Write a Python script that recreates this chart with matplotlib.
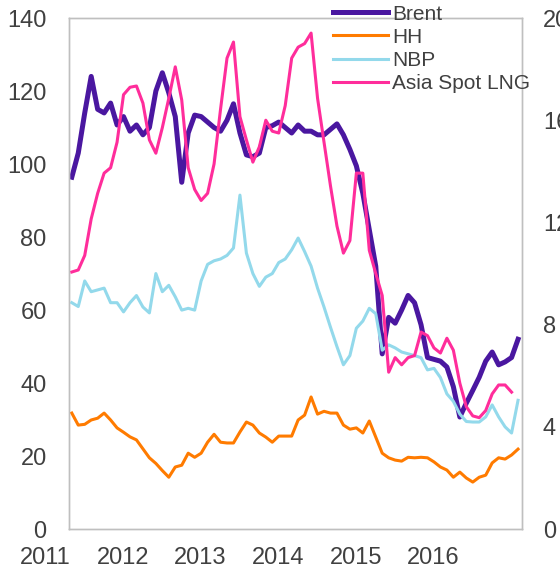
import matplotlib.pyplot as plt
import numpy as np

plt.rcParams['font.family'] = ['Liberation Sans', 'DejaVu Sans']

# monthly series, Jan 2011 onwards
brent = [96.4, 103, 114, 124, 115, 114, 116.7, 110.7, 113, 109,
         110.7, 108, 110, 120, 125, 119.5, 113, 95, 108.5, 113.4,
         113, 111.5, 110, 109, 112, 116.5, 108.5, 102.5, 102, 103,
         110, 110.5, 111.5, 110, 108.5, 110.7, 109, 109, 108, 108,
         109.5, 111, 108, 104, 99.5, 92, 82, 72, 48, 58,
         56.4, 60, 64, 62, 56, 47, 46.5, 46, 44.4, 39,
         30.7, 34.5, 38, 41.6, 46, 48.5, 45, 45.8, 47, 52]

# gas prices, $/MMBtu (right axis)
hh = [4.54, 4.07, 4.10, 4.27, 4.34, 4.54, 4.27, 3.96, 3.79, 3.61,
      3.49, 3.14, 2.79, 2.57, 2.29, 2.03, 2.43, 2.50, 2.97, 2.81,
      2.97, 3.40, 3.71, 3.40, 3.37, 3.37, 3.80, 4.19, 4.07, 3.76,
      3.60, 3.40, 3.64, 3.64, 3.64, 4.27, 4.46, 5.17, 4.50, 4.61,
      4.54, 4.54, 4.07, 3.91, 3.96, 3.76, 4.23, 3.60, 2.97, 2.79,
      2.70, 2.66, 2.81, 2.79, 2.81, 2.79, 2.63, 2.43, 2.31, 2.03,
      2.23, 2.00, 1.84, 2.03, 2.11, 2.59, 2.79, 2.74, 2.90, 3.13]

nbp = [8.86, 8.71, 9.71, 9.29, 9.36, 9.43, 8.86, 8.86, 8.50, 8.86,
       9.14, 8.69, 8.46, 10.0, 9.29, 9.54, 9.09, 8.57, 8.64, 8.57,
       9.71, 10.36, 10.5, 10.57, 10.71, 11.0, 13.07, 10.8, 10.0, 9.5,
       9.86, 10.0, 10.43, 10.57, 10.93, 11.39, 10.86, 10.29, 9.43, 8.69,
       7.90, 7.14, 6.43, 6.79, 7.86, 8.14, 8.64, 8.43, 7.0, 7.21,
       7.09, 6.93, 6.86, 6.79, 6.71, 6.23, 6.29, 5.93, 5.29, 5.0,
       4.50, 4.21, 4.19, 4.19, 4.39, 4.86, 4.39, 4.0, 3.76, 5.04]

lng = [10.06, 10.14, 10.71, 12.14, 13.14, 13.93, 14.14, 15.14, 17.0, 17.29,
       17.34, 16.67, 15.23, 14.71, 15.71, 16.86, 18.09, 16.79, 14.14, 13.29,
       12.86, 13.14, 14.29, 16.43, 18.43, 19.06, 16.14, 15.23, 14.36, 14.96,
       16.0, 15.57, 15.5, 16.57, 18.43, 18.86, 19.0, 19.41, 16.86, 15.14,
       13.43, 11.86, 10.8, 11.29, 13.93, 13.93, 10.91, 10.0, 9.14, 6.14,
       6.71, 6.43, 6.71, 6.79, 7.71, 7.57, 7.09, 6.89, 7.47, 7.0,
       5.71, 4.79, 4.43, 4.36, 4.64, 5.29, 5.64, 5.64, 5.36]

years = ['2011', '2012', '2013', '2014', '2015', '2016']

grey = '#404040'
frame = '#bfbfbf'

fig = plt.figure(figsize=(5.6, 5.72), dpi=100)
ax = fig.add_axes([0.123, 0.075, 0.809, 0.8935])
ax2 = ax.twinx()

l1, = ax.plot(np.arange(len(brent)), brent, color='#4a17a0', lw=3.6,
              solid_joinstyle='round', label='Brent')
l2, = ax2.plot(np.arange(len(hh)), hh, color='#ff7b00', lw=2.2, label='HH')
l3, = ax2.plot(np.arange(len(nbp)), nbp, color='#93d9eb', lw=2.2, label='NBP')
l4, = ax2.plot(np.arange(len(lng)), lng, color='#ff2d9b', lw=2.2,
               label='Asia Spot LNG')

ax.set_xlim(-0.45, 69.6)
ax.set_ylim(0, 140)
ax2.set_ylim(0, 20)
ax.set_yticks(range(0, 141, 20))
ax2.set_yticks(range(0, 21, 4))
ax.set_xticks([])

for a in (ax, ax2):
    for s in a.spines.values():
        s.set_color(frame)
        s.set_linewidth(1.0)
    a.tick_params(length=0, labelsize=17, labelcolor=grey)
ax.tick_params(axis='y', pad=16)
ax2.tick_params(axis='y', pad=15)

# year labels sit a few months left of each January
for i, yr in enumerate(years):
    ax.text(12 * i - 4.1, -0.057, yr, transform=ax.get_xaxis_transform(),
            ha='center', va='center', fontsize=17, color=grey, clip_on=False)

fig.legend(handles=[l1, l2, l3, l4], loc='upper left',
           bbox_to_anchor=(333 / 560, 1 - 4.5 / 572), frameon=False,
           fontsize=15, handlelength=2.64, handletextpad=0.18,
           labelspacing=0.2, borderpad=0, borderaxespad=0,
           labelcolor=grey)

fig.savefig('out.png', dpi=100)
